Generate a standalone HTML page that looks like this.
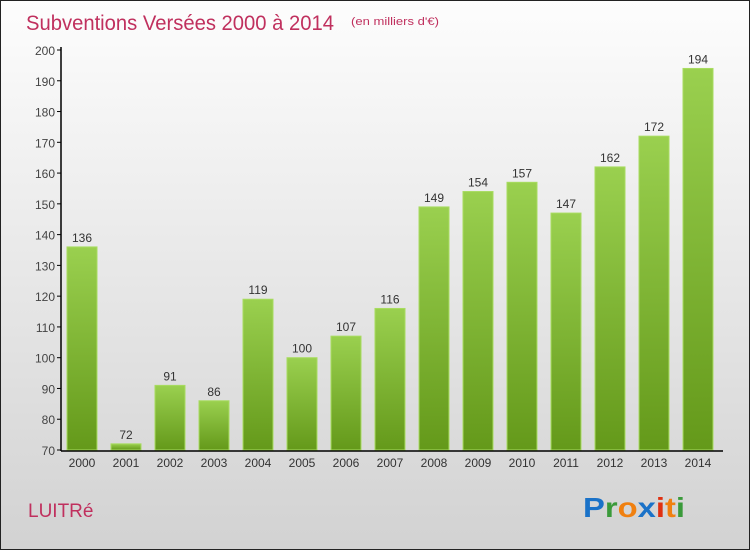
<!DOCTYPE html>
<html><head><meta charset="utf-8"><style>
body{margin:0}
#wrap{position:relative;width:748px;height:548px;border:1px solid #222;background:linear-gradient(#fdfdfd,#d2d2d2);overflow:hidden;font-family:"Liberation Sans",sans-serif}
</style></head><body>
<div id="wrap">
<svg id="chart" width="748" height="548"></svg>
</div>
<script>
const categories=["2000","2001","2002","2003","2004","2005","2006","2007","2008","2009","2010","2011","2012","2013","2014"];
const values=[136,72,91,86,119,100,107,116,149,154,157,147,162,172,194];
const yTicks=[70,80,90,100,110,120,130,140,150,160,170,180,190,200];
const NS="http://www.w3.org/2000/svg";
const svg=document.getElementById('chart');
function y(v){return 449-(v-70)*(400/130);}
function x(i){return 81+i*44;}
function el(t,a,txt){const e=document.createElementNS(NS,t);for(const k in a)e.setAttribute(k,a[k]);if(txt!==undefined)e.textContent=txt;svg.appendChild(e);return e;}
const defs=el('defs',{});
defs.innerHTML='<linearGradient id="g" x1="0" y1="0" x2="0" y2="1"><stop offset="0" stop-color="#9ad04f"/><stop offset="1" stop-color="#64991a"/></linearGradient>';
let t=el('text',{x:25,y:29,'font-size':21,fill:'#c0305e',textLength:308,lengthAdjust:'spacingAndGlyphs'},'Subventions Versées 2000 à 2014');


t=el('text',{x:350,y:24,'font-size':11,fill:'#c0305e',textLength:88,lengthAdjust:'spacingAndGlyphs'},'(en milliers d\'€)');


yTicks.forEach(v=>{
  const l=el('line',{x1:56,x2:60,y1:y(v),y2:y(v),stroke:'#000'});
  
  
  const tx=el('text',{x:54,y:y(v)+5,'font-size':12,fill:'#444','text-anchor':'end'},v);
  
  
});
values.forEach((v,i)=>{
  const r=el('rect',{x:x(i)-15,y:y(v),width:30,height:449-y(v),fill:'url(#g)',stroke:'#a8dc60','stroke-width':1});
  
  
  const lb=el('text',{x:x(i),y:y(v)-5,'font-size':12,fill:'#333','text-anchor':'middle'},v);
  
  
  const c=el('text',{x:x(i),y:466,'font-size':12,fill:'#333','text-anchor':'middle'},categories[i]);
  
  
});
let a=el('line',{x1:60,x2:60,y1:46,y2:450,stroke:'#000','stroke-width':1.5});


a=el('line',{x1:60,x2:722,y1:450,y2:450,stroke:'#000','stroke-width':1.5});


t=el('text',{x:27,y:516,'font-size':19,fill:'#c0305e'},'LUITRé');


const logo=el('text',{x:582,y:516,'font-size':28,'font-weight':'bold',textLength:102,lengthAdjust:'spacingAndGlyphs'},'');
logo.innerHTML='<tspan fill="#1a72c8">P</tspan><tspan fill="#3a9a3a">r</tspan><tspan fill="#f08010">o</tspan><tspan fill="#1a72c8">x</tspan><tspan fill="#e03010">i</tspan><tspan fill="#f08010">t</tspan><tspan fill="#3a9a3a">i</tspan>';


</script>
</body></html>
